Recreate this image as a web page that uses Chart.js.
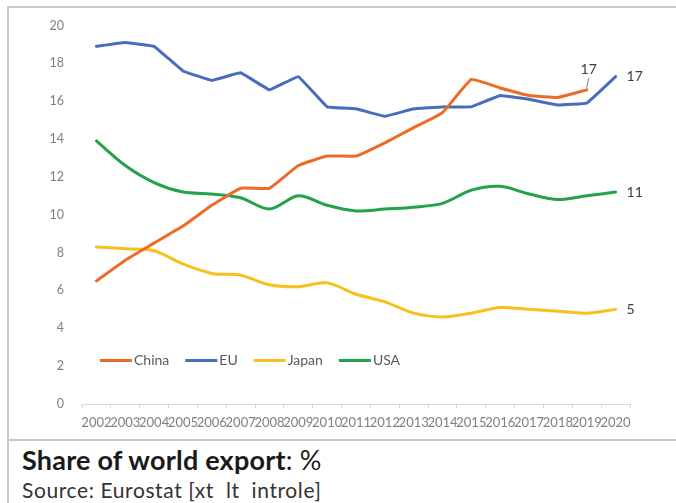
<!DOCTYPE html>
<html>
<head>
<meta charset="utf-8">
<script src="https://cdn.jsdelivr.net/npm/chart.js@4"></script>
<style>
  html, body { margin: 0; padding: 0; background: #fff; }
  body { width: 676px; height: 503px; position: relative; overflow: hidden; font-family: Lato, "Liberation Sans", sans-serif; }
  .frame-top { position: absolute; left: 8px; top: 6px; width: 668px; height: 2px; background: #c8c8c8; }
  .frame-left { position: absolute; left: 7px; top: 6px; width: 2px; height: 497px; background: #c8c8c8; }
  .frame-mid { position: absolute; left: 8px; top: 439px; width: 668px; height: 2px; background: #c8c8c8; }
  #wrap { position: absolute; left: 9px; top: 8px; width: 667px; height: 431px; }
  .title { position: absolute; left: 22px; top: 444px; font-size: 27px; line-height: 32px; color: #1a1a1a; white-space: pre; letter-spacing: 0.2px; }
  .title b { font-weight: 700; }
  .source { position: absolute; left: 22px; top: 477px; font-size: 21px; line-height: 26px; color: #333; white-space: pre; letter-spacing: 0.6px; }
</style>
</head>
<body>
<div class="frame-top"></div>
<div class="frame-left"></div>
<div class="frame-mid"></div>
<div id="wrap"><canvas id="chart"></canvas></div>
<div class="title"><b>Share of world export</b>: %</div>
<div class="source">Source: Eurostat [xt  lt  introle]</div>

<script>
// années et parts des exportations mondiales (%)
const years = ['2002', '2003', '2004', '2005', '2006', '2007', '2008', '2009', '2010', '2011',
  '2012', '2013', '2014', '2015', '2016', '2017', '2018', '2019', '2020'];
const china = [6.5, 7.6, 8.5, 9.4, 10.5, 11.4, 11.4, 12.6, 13.1, 13.1,
  13.8, 14.6, 15.4, 17.15, 16.7, 16.3, 16.2, 16.6, null];
const eu = [18.9, 19.1, 18.9, 17.6, 17.1, 17.5, 16.6, 17.3, 15.7, 15.6,
  15.2, 15.6, 15.7, 15.7, 16.3, 16.1, 15.8, 15.9, 17.3];
const japan = [8.3, 8.2, 8.1, 7.4, 6.9, 6.8, 6.3, 6.2, 6.4, 5.8,
  5.4, 4.8, 4.6, 4.8, 5.1, 5.0, 4.9, 4.8, 5.0];
const usa = [13.9, 12.6, 11.7, 11.2, 11.1, 10.9, 10.3, 11.0, 10.5, 10.2,
  10.3, 10.4, 10.6, 11.3, 11.5, 11.1, 10.8, 11.0, 11.2];
const endLabels = ['17', '17', '5', '11'];
const yTicks = [0, 2, 4, 6, 8, 10, 12, 14, 16, 18, 20];

const fontFam = 'Lato, "Liberation Sans", sans-serif';

// légende dessinée dans la zone du graphique
const legendInside = {
  id: 'legendInside',
  afterDatasetsDraw(chart) {
    const ctx = chart.ctx;
    const area = chart.chartArea;
    let x = area.left + 18;
    const y = area.top + 335;
    ctx.save();
    ctx.font = '14px ' + fontFam;
    ctx.textBaseline = 'middle';
    chart.data.datasets.forEach(ds => {
      ctx.strokeStyle = ds.borderColor;
      ctx.lineWidth = 3;
      ctx.beginPath();
      ctx.moveTo(x, y);
      ctx.lineTo(x + 32, y);
      ctx.stroke();
      x += 34;
      ctx.fillStyle = '#595959';
      ctx.fillText(ds.label, x, y);
      x += ctx.measureText(ds.label).width + 16;
    });
    ctx.restore();
  }
};

// étiquettes de fin de série
const endLabelPlugin = {
  id: 'endLabels',
  afterDatasetsDraw(chart) {
    const ctx = chart.ctx;
    ctx.save();
    ctx.font = '14px ' + fontFam;
    ctx.fillStyle = '#404040';
    ctx.textBaseline = 'middle';
    chart.data.datasets.forEach((ds, i) => {
      const meta = chart.getDatasetMeta(i);
      let last = ds.data.length - 1;
      while (ds.data[last] == null) last--;
      const pt = meta.data[last];
      if (i === 0) {
        // China : étiquette au-dessus avec petit trait
        ctx.textAlign = 'center';
        ctx.fillText(endLabels[i], pt.x + 2, pt.y - 20);
        ctx.strokeStyle = '#7f7f7f';
        ctx.lineWidth = 1;
        ctx.beginPath();
        ctx.moveTo(pt.x + 2, pt.y - 12);
        ctx.lineTo(pt.x, pt.y - 2);
        ctx.stroke();
      } else {
        ctx.textAlign = 'left';
        ctx.fillText(endLabels[i], pt.x + 11, pt.y);
      }
    });
    ctx.restore();
  }
};

const ctx = document.getElementById('chart').getContext('2d');
new Chart(ctx, {
  type: 'line',
  data: {
    labels: years,
    datasets: [
      { label: 'China', data: china, borderColor: '#ed6b25', tension: 0.1 },
      { label: 'EU', data: eu, borderColor: '#4a6cbf', tension: 0.05 },
      { label: 'Japan', data: japan, borderColor: '#f6c11c', tension: 0.3 },
      { label: 'USA', data: usa, borderColor: '#22a24a', tension: 0.3 }
    ]
  },
  options: {
    responsive: true,
    maintainAspectRatio: false,
    animation: false,
    layout: { padding: { top: 17, right: 46, bottom: 0, left: 0 } },
    elements: {
      line: { borderWidth: 3, fill: false, borderCapStyle: 'round' },
      point: { radius: 0 }
    },
    plugins: {
      legend: { display: false },
      tooltip: { enabled: false }
    },
    scales: {
      x: {
        offset: true,
        grid: { drawOnChartArea: false, tickLength: 4, color: '#d9d9d9', offset: true },
        border: { color: '#d9d9d9' },
        ticks: {
          autoSkip: false, maxRotation: 0, minRotation: 0, padding: 7,
          color: '#7f7f7f', font: { family: fontFam, size: 13 }
        },
        afterFit(scale) { scale.height = 35; }
      },
      y: {
        min: 0, max: 20,
        afterBuildTicks(scale) { scale.ticks = yTicks.map(v => ({ value: v })); },
        grid: { display: false },
        border: { display: false },
        ticks: {
          padding: 10,
          color: '#7f7f7f', font: { family: fontFam, size: 12.5 }
        },
        afterFit(scale) { scale.width = 73; }
      }
    }
  },
  plugins: [legendInside, endLabelPlugin]
});
</script>
</body>
</html>
